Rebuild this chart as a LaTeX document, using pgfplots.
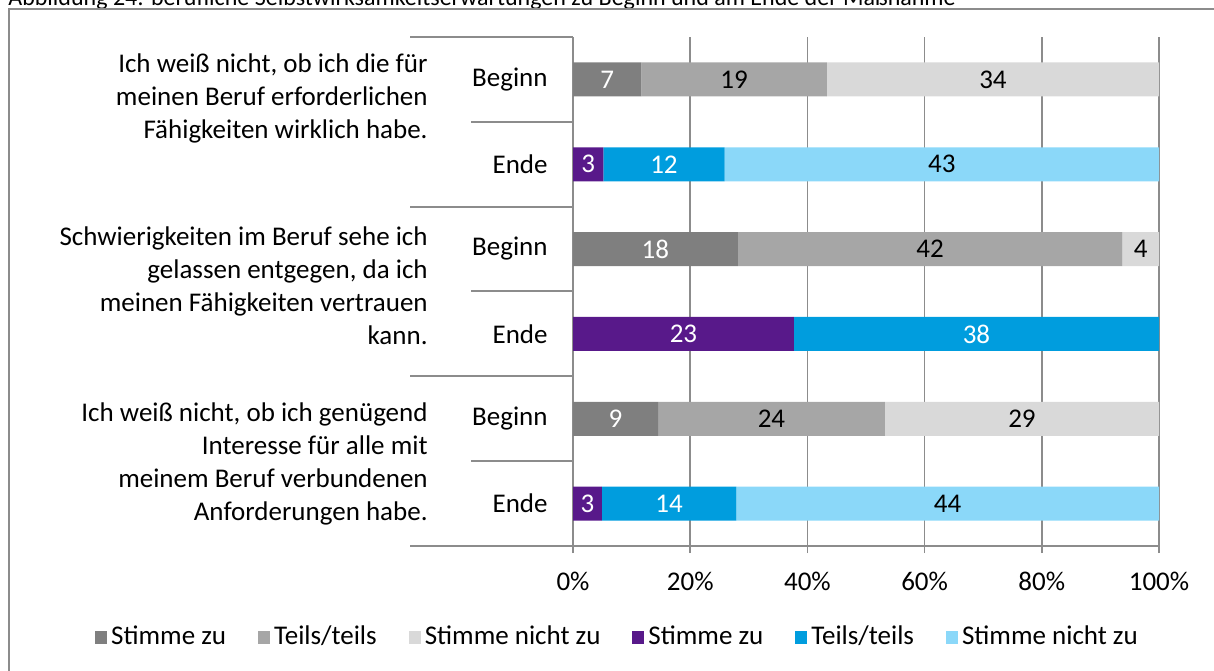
\documentclass[border=0pt]{standalone}
\usepackage{pgfplots}
\usepackage{pgfplotstable}
\pgfplotsset{compat=1.18}
\usepackage{fontspec}
\setmainfont{Carlito}

\definecolor{gA}{HTML}{7F7F7F}
\definecolor{gB}{HTML}{A6A6A6}
\definecolor{gC}{HTML}{D9D9D9}
\definecolor{pu}{HTML}{58198A}
\definecolor{bl}{HTML}{009DDE}
\definecolor{lb}{HTML}{8BD8F9}
\definecolor{ln}{HTML}{8C8C8C}

% shares in percent of row total (counts shown as labels)
\pgfplotstableread{
y gA gB gC pu bl lb
6 11.667 31.667 56.667 0 0 0
5 0 0 0 5.172 20.690 74.138
4 28.125 65.625 6.250 0 0 0
3 0 0 0 37.705 62.295 0
2 14.516 38.710 46.774 0 0 0
1 0 0 0 4.918 22.951 72.131
}\shares

\pgfplotstableread{
x y lab
5.833 6 7
14.063 4 18
7.258 2 9
2.586 5 3
18.852 3 23
2.459 1 3
15.517 5 12
68.852 3 38
16.393 1 14
}\whitelabels

\pgfplotstableread{
x y lab
27.500 6 19
71.667 6 34
60.938 4 42
96.875 4 4
33.871 2 24
76.613 2 29
62.931 5 43
63.934 1 44
}\blacklabels

\begin{document}
\fontsize{13.5}{16.5}\selectfont
\begin{tikzpicture}
\begin{axis}[
  at={(286.5pt,-273pt)}, anchor=south west,
  scale only axis, width=293pt, height=254.5pt,
  xbar stacked, bar width=17pt,
  xmin=0, xmax=100, ymin=0.5, ymax=6.5,
  axis lines*=left,
  axis line style={ln, line width=1pt},
  xmajorgrids, grid style={ln, line width=0.8pt},
  ytick=\empty,
  xtick={0,20,40,60,80,100},
  xticklabels={0\%,20\%,40\%,60\%,80\%,100\%},
  xticklabel style={yshift=-5pt},
  tick align=outside, major tick length=3.5pt,
  tick style={ln, line width=0.8pt},
  legend image code/.code={\fill[#1] (0pt,-3.3pt) rectangle (6pt,3.3pt);},
  legend columns=6,
  legend cell align=left,
  legend style={draw=none, fill=none, at={(0.0776,-0.179)}, anchor=center,
    font=\fontsize{13.5}{16.5}\selectfont,
    /tikz/every even column/.append style={column sep=14pt}},
]
\addplot[fill=gA, draw=none] table[x=gA, y=y]{\shares};
\addlegendentry{Stimme zu}
\addplot[fill=gB, draw=none] table[x=gB, y=y]{\shares};
\addlegendentry{Teils/teils}
\addplot[fill=gC, draw=none] table[x=gC, y=y]{\shares};
\addlegendentry{Stimme nicht zu}
\addplot[fill=pu, draw=none] table[x=pu, y=y]{\shares};
\addlegendentry{Stimme zu}
\addplot[fill=bl, draw=none] table[x=bl, y=y]{\shares};
\addlegendentry{Teils/teils}
\addplot[fill=lb, draw=none] table[x=lb, y=y]{\shares};
\addlegendentry{Stimme nicht zu}
\end{axis}

\begin{axis}[
  at={(286.5pt,-273pt)}, anchor=south west,
  scale only axis, width=293pt, height=254.5pt,
  xmin=0, xmax=100, ymin=0.5, ymax=6.5,
  hide axis,
]
\addplot[only marks, mark=*, mark size=0pt, mark options={draw=none, fill=none},
  nodes near coords, point meta=explicit symbolic,
  nodes near coords style={anchor=center, text=white, font=\fontsize{13.5}{16.5}\selectfont}]
  table[x=x, y=y, meta=lab]{\whitelabels};
\addplot[only marks, mark=*, mark size=0pt, mark options={draw=none, fill=none},
  nodes near coords, point meta=explicit symbolic,
  nodes near coords style={anchor=center, text=black, font=\fontsize{13.5}{16.5}\selectfont}]
  table[x=x, y=y, meta=lab]{\blacklabels};
\end{axis}

\begin{scope}[x=0.5pt, y=-0.5pt]
  % caption (cut off at the top, as in the source)
  \begin{scope}
    \clip (0,0) rectangle (1214,670);
    \node[anchor=base west, inner sep=0, font=\fontsize{12}{14}\selectfont] at (8,5)
      {Abbildung 24: berufliche Selbstwirksamkeitserwartungen zu Beginn und am Ende der Maßnahme};
    \draw[ln, line width=1pt] (8.5,8.5) rectangle (1240,700);
  \end{scope}
  % category separators
  \foreach \yy in {37,206.5,376,546} \draw[ln, line width=1pt] (410,\yy) -- (573,\yy);
  \foreach \yy in {121.5,291,461} \draw[ln, line width=1pt] (471,\yy) -- (573,\yy);
  % inner labels
  \foreach \yy/\tx in {79.4/Beginn,164.2/Ende,249/Beginn,333.9/Ende,418.7/Beginn,503.6/Ende}
    \node[anchor=east, inner sep=0] at (548,\yy) {\tx};
  % outer labels
  \node[anchor=east, align=right, inner sep=0] at (428,98)
    {Ich weiß nicht, ob ich die für\\meinen Beruf erforderlichen\\Fähigkeiten wirklich habe.};
  \node[anchor=east, align=right, inner sep=0] at (428,285.5)
    {Schwierigkeiten im Beruf sehe ich\\gelassen entgegen, da ich\\meinen Fähigkeiten vertrauen\\kann.};
  \node[anchor=east, align=right, inner sep=0] at (428,463.5)
    {Ich weiß nicht, ob ich genügend\\Interesse für alle mit\\meinem Beruf verbundenen\\Anforderungen habe.};
\end{scope}
\pgfresetboundingbox
\path[use as bounding box] (0pt,0pt) rectangle (607pt,-335pt);
\end{tikzpicture}
\end{document}
